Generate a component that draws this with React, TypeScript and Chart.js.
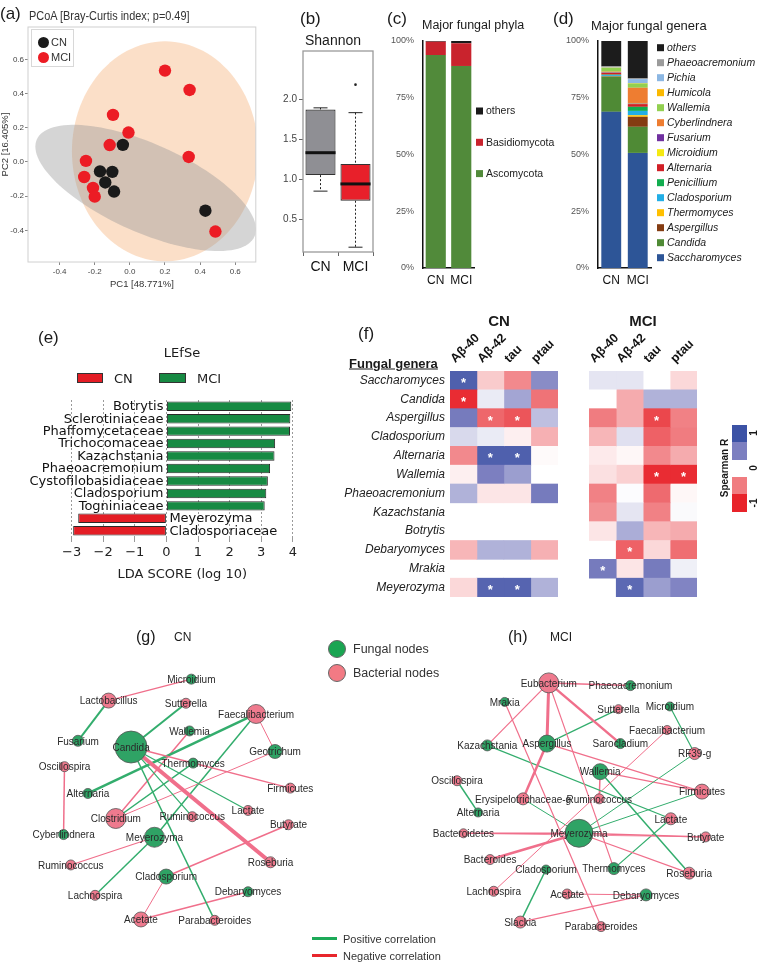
import React, { useEffect, useRef } from 'react';
import { Chart, registerables } from 'chart.js';

Chart.register(...registerables);

const SANS = "'Liberation Sans', Arial, Helvetica, sans-serif";
const DEJAVU = "'DejaVu Sans', Verdana, sans-serif";
Chart.defaults.font.family = SANS;

// ---------- (a) PCoA ----------
const cnPC1 = [-0.04, -0.17, -0.10, -0.14, -0.09, 0.43];
const cnPC2 = [0.10, -0.055, -0.058, -0.12, -0.173, -0.285];
const mciPC1 = [0.20, 0.34, -0.096, -0.008, -0.115, -0.25, 0.335, -0.26, -0.21, -0.20, 0.487];
const mciPC2 = [0.534, 0.421, 0.275, 0.172, 0.099, 0.006, 0.029, -0.088, -0.152, -0.203, -0.407];
const pcoaTicks = [-0.4, -0.2, 0, 0.2, 0.4, 0.6];
// confidence ellipses: centre (PC1, PC2), major semi-axis vector, minor semi-axis vector
const cnEllipse = [0.09, -0.152, 0.62, -0.283, -0.1, -0.237];
const mciEllipse = [0.2, 0.062, 0.53, 0, 0, 0.643];

// ---------- (b) Shannon ----------
const boxGroups = ['CN', 'MCI'];
const boxMin = [0.85, 0.15];
const boxQ1 = [1.05, 0.73];
const boxMedian = [1.33, 0.94];
const boxQ3 = [1.87, 1.19];
const boxMax = [1.89, 1.83];
const boxOutliers = [[], [2.18]];
const shannonTicks = [0.5, 1.0, 1.5, 2.0];

// ---------- (c) phyla ----------
const groups = ['CN', 'MCI'];
const ascomycota = [93.8, 89.0];
const basidiomycota = [5.9, 10.0];
const phylaOthers = [0.3, 1.0];
const pctTicks = [0, 25, 50, 75, 100];

// ---------- (d) genera (stack order bottom -> top) ----------
const generaNames = ['Saccharomyces', 'Candida', 'Aspergillus', 'Thermomyces', 'Cladosporium', 'Penicillium', 'Alternaria', 'Microidium', 'Fusarium', 'Cyberlindnera', 'Wallemia', 'Humicola', 'Pichia', 'Phaeoacremonium', 'others'];
const generaCN = [68.8, 15.5, 0.2, 0.1, 0.4, 0.2, 0.7, 0.1, 0.3, 0.2, 1.7, 0.1, 0.2, 0.3, 11.2];
const generaMCI = [50.7, 11.5, 4.4, 0.7, 1.9, 1.8, 1.2, 0.2, 0.3, 6.7, 1.9, 0.2, 1.7, 0.3, 16.5];
const generaColors = ['#2d5597', '#4f8a35', '#843c12', '#ffc000', '#22aee6', '#12ad4f', '#d11f26', '#f5e912', '#7030a0', '#ee7d31', '#92d050', '#fbb900', '#8cb7e3', '#9b9b9b', '#1c1c1c'];

// ---------- (e) LEfSe ----------
const lefseTaxa = ['Botrytis', 'Sclerotiniaceae', 'Phaffomycetaceae', 'Trichocomaceae', 'Kazachstania', 'Phaeoacremonium', 'Cystofilobasidiaceae', 'Cladosporium', 'Togniniaceae', 'Meyerozyma', 'Cladosporiaceae'];
const lefseLDA = [3.95, 3.92, 3.91, 3.44, 3.42, 3.28, 3.21, 3.16, 3.11, -2.79, -2.95];
const ldaTicks = [-3, -2, -1, 0, 1, 2, 3, 4];

// ---------- (f) heatmap ----------
const heatGenera = ['Saccharomyces', 'Candida', 'Aspergillus', 'Cladosporium', 'Alternaria', 'Wallemia', 'Phaeoacremonium', 'Kazachstania', 'Botrytis', 'Debaryomyces', 'Mrakia', 'Meyerozyma'];
const heatMarkers = ['Aβ-40', 'Aβ-42', 'tau', 'ptau'];
const cnSpearman = [
  [0.85, -0.2, -0.45, 0.45],
  [-0.95, 0.08, 0.35, -0.55],
  [0.55, -0.62, -0.72, 0.25],
  [0.15, 0.08, -0.06, -0.3],
  [-0.45, 0.85, 0.85, -0.02],
  [-0.06, 0.5, 0.38, 0],
  [0.3, -0.1, -0.1, 0.55],
  [null, null, null, null],
  [null, null, null, null],
  [-0.28, 0.3, 0.3, -0.3],
  [null, null, null, null],
  [-0.15, 0.8, 0.8, 0.3],
];
const mciSpearman = [
  [0.1, 0.1, 0, -0.15],
  [0, -0.32, 0.3, 0.3],
  [-0.5, -0.32, -0.8, -0.48],
  [-0.28, 0.12, -0.65, -0.5],
  [-0.08, -0.03, -0.45, -0.32],
  [-0.12, -0.18, -0.95, -0.95],
  [-0.48, 0.01, -0.6, -0.03],
  [-0.42, 0.1, -0.48, 0.02],
  [-0.1, 0.32, -0.28, -0.32],
  [null, -0.65, -0.15, -0.58],
  [0.55, -0.1, 0.55, 0.06],
  [null, 0.75, 0.38, 0.48],
];
const cnStars = [[0, 0], [1, 0], [2, 1], [2, 2], [4, 1], [4, 2], [11, 1], [11, 2]];
const mciStars = [[2, 2], [5, 2], [5, 3], [9, 1], [10, 0], [11, 1]];

// ---------- (g)/(h) networks: [name, layoutX, layoutY, size, kind] ----------
const cnNodes: any[] = [
  ['Microidium', 194, 25, 5, 'F'],
  ['Lactobacillus', 102, 49, 7.5, 'B'],
  ['Sutterella', 188, 52, 5, 'B'],
  ['Faecalibacterium', 266, 64, 9.5, 'B'],
  ['Wallemia', 192, 83, 5, 'F'],
  ['Fusarium', 68, 94, 5.5, 'F'],
  ['Candida', 127, 101, 16, 'F'],
  ['Geotrichum', 287, 106, 7, 'F'],
  ['Thermomyces', 196, 119, 5, 'F'],
  ['Oscillospira', 53, 123, 5, 'B'],
  ['Firmicutes', 304, 147, 5, 'B'],
  ['Alternaria', 79, 153, 5, 'F'],
  ['Lactate', 257, 172, 5, 'B'],
  ['Ruminococcus_1', 195, 179, 5, 'B'],
  ['Clostridium', 110, 181, 10, 'B'],
  ['Butyrate', 302, 188, 5, 'B'],
  ['Cyberlindnera', 52, 199, 5, 'F'],
  ['Meyerozyma', 153, 202, 10, 'F'],
  ['Roseburia', 282, 230, 5.5, 'B'],
  ['Ruminococcus_2', 60, 233, 5, 'B'],
  ['Cladosporium', 166, 246, 7.5, 'F'],
  ['Debaryomyces', 257, 263, 5, 'F'],
  ['Lachnospira', 87, 267, 5, 'B'],
  ['Acetate', 138, 294, 7.5, 'B'],
  ['Parabacteroides', 220, 295, 5, 'B'],
];
// [from, to, sign, strength]
const cnEdges: any[] = [
  ['Lactobacillus', 'Microidium', -1, 1.3],
  ['Lactobacillus', 'Fusarium', 1, 2],
  ['Candida', 'Sutterella', 1, 2],
  ['Candida', 'Firmicutes', -1, 1.5],
  ['Candida', 'Roseburia', -1, 4],
  ['Candida', 'Lactate', 1, 1.2],
  ['Candida', 'Ruminococcus_1', 1, 1.2],
  ['Candida', 'Parabacteroides', 1, 1.5],
  ['Alternaria', 'Faecalibacterium', 1, 2.5],
  ['Wallemia', 'Clostridium', -1, 1.5],
  ['Clostridium', 'Thermomyces', 1, 1.5],
  ['Clostridium', 'Geotrichum', -1, 1],
  ['Faecalibacterium', 'Geotrichum', -1, 1],
  ['Faecalibacterium', 'Meyerozyma', 1, 1.5],
  ['Oscillospira', 'Cyberlindnera', -1, 1.5],
  ['Meyerozyma', 'Ruminococcus_2', -1, 1.2],
  ['Meyerozyma', 'Lachnospira', 1, 1.5],
  ['Cladosporium', 'Butyrate', -1, 1.5],
  ['Cladosporium', 'Acetate', -1, 1],
  ['Acetate', 'Debaryomyces', -1, 1.5],
];
const mciNodes: any[] = [
  ['Eubacterium', 146, 31, 10, 'B'],
  ['Phaeoacremonium', 235, 34, 5, 'F'],
  ['Mrakia', 98, 52, 4.5, 'F'],
  ['Microidium', 278, 57, 4.5, 'F'],
  ['Sutterella', 222, 60, 4.5, 'B'],
  ['Faecalibacterium', 275, 83, 4.5, 'B'],
  ['Kazachstania', 79, 100, 5.5, 'F'],
  ['Aspergillus', 144, 98, 8.5, 'F'],
  ['Sarocladium', 224, 98, 5, 'F'],
  ['RF39-g', 305, 109, 6, 'B'],
  ['Wallemia', 202, 129, 8, 'F'],
  ['Oscillospira', 46, 139, 5, 'B'],
  ['Firmicutes', 313, 151, 7.5, 'B'],
  ['Ruminococcus', 201, 159, 5, 'B'],
  ['Erysipelotrichaceae-g', 118, 159, 6, 'B'],
  ['Alternaria', 69, 174, 4.5, 'F'],
  ['Lactate', 279, 181, 6, 'B'],
  ['Bacteroidetes', 53, 197, 4.5, 'B'],
  ['Meyerozyma', 179, 197, 14, 'F'],
  ['Butyrate', 317, 201, 5, 'B'],
  ['Bacteroides', 82, 226, 5, 'B'],
  ['Cladosporium', 143, 237, 4.5, 'F'],
  ['Thermomyces', 217, 236, 6, 'F'],
  ['Roseburia', 299, 241, 6, 'B'],
  ['Lachnospira', 86, 261, 5, 'B'],
  ['Acetate', 166, 264, 5, 'B'],
  ['Debaryomyces', 252, 265, 6, 'F'],
  ['Slackia', 115, 295, 6, 'B'],
  ['Parabacteroides', 203, 300, 5, 'B'],
];
const mciEdges: any[] = [
  ['Eubacterium', 'Phaeoacremonium', -1, 1.5],
  ['Eubacterium', 'Kazachstania', -1, 1.2],
  ['Eubacterium', 'Aspergillus', -1, 3],
  ['Eubacterium', 'Sarocladium', -1, 2.5],
  ['Eubacterium', 'Thermomyces', -1, 1.2],
  ['Mrakia', 'Parabacteroides', -1, 1.2],
  ['Aspergillus', 'Sutterella', 1, 1.2],
  ['Aspergillus', 'Erysipelotrichaceae-g', -1, 2.5],
  ['Aspergillus', 'Firmicutes', -1, 1.2],
  ['Kazachstania', 'Lactate', 1, 1.2],
  ['Faecalibacterium', 'Lachnospira', -1, 1],
  ['Microidium', 'RF39-g', 1, 1.2],
  ['RF39-g', 'Meyerozyma', 1, 1],
  ['Wallemia', 'Ruminococcus', -1, 1.5],
  ['Wallemia', 'Firmicutes', -1, 1.2],
  ['Wallemia', 'Roseburia', 1, 1.5],
  ['Oscillospira', 'Alternaria', 1, 1.5],
  ['Erysipelotrichaceae-g', 'Meyerozyma', 1, 1],
  ['Meyerozyma', 'Firmicutes', 1, 1],
  ['Meyerozyma', 'Bacteroidetes', -1, 1.5],
  ['Meyerozyma', 'Butyrate', -1, 1.5],
  ['Bacteroidetes', 'Butyrate', -1, 0.8],
  ['Meyerozyma', 'Bacteroides', -1, 2.5],
  ['Meyerozyma', 'Roseburia', -1, 1.2],
  ['Lactate', 'Thermomyces', 1, 1.2],
  ['Cladosporium', 'Slackia', 1, 1.5],
  ['Acetate', 'Debaryomyces', -1, 1],
  ['Slackia', 'Debaryomyces', -1, 1.2],
];

// ---------- styles ----------
const CN_BLACK = '#1a1a1a';
const MCI_RED = '#ec1c24';
const LEFSE_RED = '#e41d25';
const LEFSE_GREEN = '#178a43';
const FUNGAL = '#2fa365';
const BACT = '#ef7a8e';
const POS_EDGE = '#33ad6d';
const NEG_EDGE = '#f06f8b';
const heatStops: any[] = [[-1, [232, 35, 42]], [-0.5, [240, 124, 128]], [0, [255, 255, 255]], [0.5, [124, 127, 192]], [1, [60, 82, 165]]];

function heatColor(v: number) {
  for (let i = 0; i < heatStops.length - 1; i++) {
    const [a, ca] = heatStops[i];
    const [b, cb] = heatStops[i + 1];
    if (v >= a && v <= b) {
      const t = (v - a) / (b - a);
      const c = ca.map((x: number, k: number) => Math.round(x + (cb[k] - x) * t));
      return `rgb(${c[0]},${c[1]},${c[2]})`;
    }
  }
  return '#fff';
}

const base = (extra: any = {}) => ({
  responsive: false,
  animation: false,
  devicePixelRatio: 1,
  events: [],
  plugins: { legend: { display: false }, tooltip: { enabled: false } },
  ...extra,
});

const framePlugin = (color: string, width: number) => ({
  id: 'frame',
  afterDatasetsDraw(chart: any) {
    const { ctx, chartArea: a } = chart;
    ctx.save();
    ctx.strokeStyle = color;
    ctx.lineWidth = width;
    ctx.strokeRect(a.left, a.top, a.right - a.left, a.bottom - a.top);
    ctx.restore();
  },
});

function stackLegend(x: number, y: number, dy: number, font: string) {
  return {
    id: 'stackLegend',
    afterDraw(chart: any) {
      const ctx = chart.ctx;
      const ds = chart.data.datasets.slice().reverse();
      ctx.save();
      ctx.font = font;
      ctx.textBaseline = 'middle';
      ds.forEach((d: any, i: number) => {
        const yy = y + i * dy;
        ctx.fillStyle = d.backgroundColor;
        ctx.fillRect(x, yy - 3.5, 7, 7);
        ctx.fillStyle = '#222';
        ctx.fillText(d.label, x + 10, yy + 0.5);
      });
      ctx.restore();
    },
  };
}

// ---------- chart factories ----------
function makePcoa() {
  const ellipses = {
    id: 'ellipses',
    beforeDatasetsDraw(chart: any) {
      const { ctx, chartArea: a, scales } = chart;
      ctx.save();
      ctx.beginPath();
      ctx.rect(a.left, a.top, a.right - a.left, a.bottom - a.top);
      ctx.clip();
      const list: any[] = [[mciEllipse, 'rgba(247,196,155,0.55)'], [cnEllipse, 'rgba(150,150,150,0.40)']];
      list.forEach(([e, col]) => {
        ctx.beginPath();
        for (let k = 0; k <= 120; k++) {
          const t = (k / 120) * Math.PI * 2;
          const vx = e[0] + e[2] * Math.cos(t) + e[4] * Math.sin(t);
          const vy = e[1] + e[3] * Math.cos(t) + e[5] * Math.sin(t);
          const px = scales.x.getPixelForValue(vx);
          const py = scales.y.getPixelForValue(vy);
          if (k === 0) ctx.moveTo(px, py);
          else ctx.lineTo(px, py);
        }
        ctx.closePath();
        ctx.fillStyle = col;
        ctx.fill();
      });
      ctx.restore();
    },
  };
  const tickFont = { size: 8 };
  return {
    type: 'scatter',
    data: {
      datasets: [
        { label: 'CN', data: cnPC1.map((x, i) => ({ x, y: cnPC2[i] })), backgroundColor: CN_BLACK, pointRadius: 6.2, pointBorderWidth: 0 },
        { label: 'MCI', data: mciPC1.map((x, i) => ({ x, y: mciPC2[i] })), backgroundColor: MCI_RED, pointRadius: 6.2, pointBorderWidth: 0 },
      ],
    },
    options: base({
      layout: { padding: { top: 27, right: 4, left: 0, bottom: 0 } },
      scales: {
        x: {
          type: 'linear', min: -0.58, max: 0.717,
          afterBuildTicks: (s: any) => { s.ticks = pcoaTicks.map((v) => ({ value: v })); },
          afterFit: (s: any) => { s.height = 28; },
          grid: { drawOnChartArea: false, tickLength: 3, color: '#888' },
          border: { display: false },
          ticks: { font: tickFont, color: '#444', padding: 2, callback: (v: any) => Number(v).toFixed(1) },
          title: { display: true, text: 'PC1 [48.771%]', font: { size: 9.5 }, color: '#333', padding: 0 },
        },
        y: {
          type: 'linear', min: -0.585, max: 0.789,
          afterBuildTicks: (s: any) => { s.ticks = pcoaTicks.map((v) => ({ value: v })); },
          afterFit: (s: any) => { s.width = 28; },
          grid: { drawOnChartArea: false, tickLength: 3, color: '#888' },
          border: { display: false },
          ticks: { font: tickFont, color: '#444', padding: 1, callback: (v: any) => Number(v).toFixed(1) },
          title: { display: true, text: 'PC2 [16.405%]', font: { size: 9.5 }, color: '#333', padding: 0 },
        },
      },
    }),
    plugins: [ellipses, framePlugin('#d0d0d0', 1)],
  };
}

function makeBox() {
  const whiskers = {
    id: 'whiskers',
    beforeDatasetsDraw(chart: any) {
      const { ctx, scales } = chart;
      ctx.save();
      ctx.strokeStyle = '#222';
      ctx.lineWidth = 1;
      boxGroups.forEach((g, i) => {
        const cx = scales.x.getPixelForValue(i);
        ctx.setLineDash([2, 2]);
        ctx.beginPath();
        ctx.moveTo(cx, scales.y.getPixelForValue(boxMax[i]));
        ctx.lineTo(cx, scales.y.getPixelForValue(boxQ3[i]));
        ctx.moveTo(cx, scales.y.getPixelForValue(boxQ1[i]));
        ctx.lineTo(cx, scales.y.getPixelForValue(boxMin[i]));
        ctx.stroke();
        ctx.setLineDash([]);
        ctx.beginPath();
        [boxMax[i], boxMin[i]].forEach((v) => {
          const yy = scales.y.getPixelForValue(v);
          ctx.moveTo(cx - 7, yy);
          ctx.lineTo(cx + 7, yy);
        });
        ctx.stroke();
      });
      ctx.restore();
    },
    afterDatasetsDraw(chart: any) {
      const { ctx, scales } = chart;
      const meta = chart.getDatasetMeta(0);
      ctx.save();
      boxGroups.forEach((g, i) => {
        const el = meta.data[i];
        const cx = scales.x.getPixelForValue(i);
        const w = el.width;
        const ym = scales.y.getPixelForValue(boxMedian[i]);
        ctx.strokeStyle = '#111';
        ctx.lineWidth = 3;
        ctx.beginPath();
        ctx.moveTo(cx - w / 2, ym);
        ctx.lineTo(cx + w / 2, ym);
        ctx.stroke();
        ctx.fillStyle = '#222';
        (boxOutliers[i] as number[]).forEach((v) => {
          ctx.beginPath();
          ctx.arc(cx, scales.y.getPixelForValue(v), 1.3, 0, Math.PI * 2);
          ctx.fill();
        });
      });
      ctx.restore();
    },
  };
  return {
    type: 'bar',
    data: {
      labels: boxGroups,
      datasets: [{
        data: boxGroups.map((g, i) => [boxQ1[i], boxQ3[i]]),
        backgroundColor: ['#8f8f94', '#e8202a'],
        borderColor: '#333', borderWidth: 1.2, borderSkipped: false,
        barPercentage: 0.86, categoryPercentage: 1,
      }],
    },
    options: base({
      layout: { padding: { top: 51, right: 7, left: 0, bottom: 0 } },
      scales: {
        x: {
          afterFit: (s: any) => { s.height = 38; },
          grid: { drawOnChartArea: false, tickLength: 4, color: '#666' },
          border: { display: false },
          ticks: { font: { size: 14 }, color: '#111', padding: 3, autoSkip: false, maxRotation: 0 },
        },
        y: {
          type: 'linear', min: 0.09, max: 2.6,
          afterBuildTicks: (s: any) => { s.ticks = shannonTicks.map((v) => ({ value: v })); },
          afterFit: (s: any) => { s.width = 41; },
          grid: { drawOnChartArea: false, tickLength: 4, color: '#666' },
          border: { display: false },
          ticks: { font: { size: 10 }, color: '#444', padding: 2, callback: (v: any) => Number(v).toFixed(1) },
        },
      },
    }),
    plugins: [whiskers, framePlugin('#9a9a9a', 1.3)],
  };
}

function stackedOptions(padRight: number, yWidth: number, barPct: number) {
  return base({
    layout: { padding: { top: 41, right: padRight, left: 0, bottom: 0 } },
    datasets: { bar: { barPercentage: barPct, categoryPercentage: 1 } },
    scales: {
      x: {
        stacked: true,
        afterFit: (s: any) => { s.height = 22; },
        grid: { display: false, drawTicks: false },
        border: { color: '#111', width: 1.5 },
        ticks: { font: { size: 12 }, color: '#111', padding: 5, autoSkip: false, minRotation: 0, maxRotation: 0 },
      },
      y: {
        stacked: true, min: 0, max: 100,
        afterBuildTicks: (s: any) => { s.ticks = pctTicks.map((v) => ({ value: v })); },
        afterFit: (s: any) => { s.width = yWidth; },
        grid: { display: false, drawTicks: false },
        border: { color: '#111', width: 1.5 },
        ticks: { font: { size: 9 }, color: '#555', padding: 9, callback: (v: any) => v + '%' },
      },
    },
  });
}

function makePhyla() {
  return {
    type: 'bar',
    data: {
      labels: groups,
      datasets: [
        { label: 'Ascomycota', data: ascomycota, backgroundColor: '#518a3a' },
        { label: 'Basidiomycota', data: basidiomycota, backgroundColor: '#c9232d' },
        { label: 'others', data: phylaOthers, backgroundColor: '#1a1a1a' },
      ],
    },
    options: stackedOptions(86, 43, 0.79),
    plugins: [stackLegend(96, 111, 31.3, `10.5px ${SANS}`)],
  };
}

function makeGenera() {
  return {
    type: 'bar',
    data: {
      labels: groups,
      datasets: generaNames.map((n, i) => ({ label: n, data: [generaCN[i], generaMCI[i]], backgroundColor: generaColors[i] })),
    },
    options: stackedOptions(108, 38, 0.75),
    plugins: [stackLegend(97, 47.7, 15, `italic 10.5px ${SANS}`)],
  };
}

function makeLefse() {
  const labels = {
    id: 'lefseLabels',
    afterDatasetsDraw(chart: any) {
      const { ctx, scales } = chart;
      const meta = chart.getDatasetMeta(0);
      const x0 = scales.x.getPixelForValue(0);
      ctx.save();
      ctx.font = `13px ${DEJAVU}`;
      ctx.fillStyle = '#111';
      ctx.textBaseline = 'middle';
      meta.data.forEach((el: any, i: number) => {
        const pos = lefseLDA[i] >= 0;
        ctx.textAlign = pos ? 'right' : 'left';
        ctx.fillText(lefseTaxa[i], pos ? x0 - 3 : x0 + 3, el.y + 0.5);
      });
      ctx.restore();
    },
  };
  return {
    type: 'bar',
    data: {
      labels: lefseTaxa,
      datasets: [{
        data: lefseLDA,
        backgroundColor: lefseLDA.map((v) => (v >= 0 ? LEFSE_GREEN : LEFSE_RED)),
        borderColor: '#2a2a2a', borderWidth: 1, borderSkipped: false,
        barPercentage: 0.76, categoryPercentage: 1,
      }],
    },
    options: base({
      indexAxis: 'y',
      layout: { padding: { top: 110, right: 5, left: 70, bottom: 0 } },
      scales: {
        x: {
          type: 'linear', min: -3.05, max: 4.05,
          afterBuildTicks: (s: any) => { s.ticks = ldaTicks.map((v) => ({ value: v })); },
          afterFit: (s: any) => { s.height = 48; },
          grid: { color: '#9a9a9a', lineWidth: 1, tickLength: 5 },
          border: { display: false, dash: [2, 2] },
          ticks: { font: { family: DEJAVU, size: 13 }, color: '#222', padding: 3, callback: (v: any) => (v < 0 ? '\u2212' + Math.abs(v) : String(v)) },
          title: { display: true, text: 'LDA SCORE (log 10)', font: { family: DEJAVU, size: 13 }, color: '#222', padding: { top: 1, bottom: 3 } },
        },
        y: { display: false },
      },
    }),
    plugins: [labels],
  };
}

const heatGap = 1.174;
function makeHeatmap() {
  const cols: any[] = [];
  [cnSpearman, mciSpearman].forEach((mat, g) => {
    heatMarkers.forEach((m, c) => {
      const x0 = g === 0 ? c : 4 + heatGap + c;
      cols.push({
        label: (g === 0 ? 'CN ' : 'MCI ') + m,
        data: mat.map((row) => (row[c] === null ? null : [x0, x0 + 1])),
        backgroundColor: mat.map((row) => heatColor(row[c] === null ? 0 : (row[c] as number))),
        borderWidth: 0,
        grouped: false,
        barPercentage: 1,
        categoryPercentage: 1,
      });
    });
  });
  const tickPos = [0.5, 1.5, 2.5, 3.5].concat([0.5, 1.5, 2.5, 3.5].map((v) => v + 4 + heatGap));
  const stars = {
    id: 'stars',
    afterDatasetsDraw(chart: any) {
      const ctx = chart.ctx;
      ctx.save();
      ctx.fillStyle = '#fff';
      ctx.font = `bold 13px ${SANS}`;
      ctx.textAlign = 'center';
      ctx.textBaseline = 'middle';
      [cnStars, mciStars].forEach((list, g) => {
        list.forEach(([r, c]) => {
          const el = chart.getDatasetMeta(g * 4 + c).data[r];
          const p = el.getProps(['x', 'y', 'base'], true);
          ctx.fillText('*', (p.x + p.base) / 2, p.y + 3);
        });
      });
      ctx.restore();
    },
  };
  return {
    type: 'bar',
    data: { labels: heatGenera, datasets: cols },
    options: base({
      indexAxis: 'y',
      layout: { padding: { top: 0, right: 62, left: 0, bottom: 13 } },
      scales: {
        x: {
          type: 'linear', position: 'top', min: 0, max: 8 + heatGap,
          afterBuildTicks: (s: any) => { s.ticks = tickPos.map((v) => ({ value: v })); },
          afterFit: (s: any) => { s.height = 81; },
          grid: { display: false, drawTicks: false },
          border: { display: false },
          ticks: { autoSkip: false, minRotation: 45, maxRotation: 45, padding: 5, font: { size: 12.5, weight: 'bold' }, color: '#111', callback: (v: any, i: number) => heatMarkers[i % 4] },
        },
        y: {
          afterFit: (s: any) => { s.width = 190; },
          grid: { display: false, drawTicks: false },
          border: { display: false },
          ticks: { autoSkip: false, padding: 5, font: { size: 12, style: 'italic' }, color: '#222' },
        },
      },
    }),
    plugins: [stars],
  };
}

function makeNetwork(nodes: any[], edges: any[], w: number, h: number) {
  const idx = new Map(nodes.map((n, i) => [n[0], i]));
  const pt = (name: string) => {
    const n = nodes[idx.get(name) as number];
    return { x: n[1], y: n[2] };
  };
  const edgeSets = edges.map(([a, b, sign, wt]) => ({
    type: 'line',
    data: [pt(a), pt(b)],
    borderColor: sign > 0 ? POS_EDGE : NEG_EDGE,
    borderWidth: wt,
    pointRadius: 0,
    tension: 0,
    fill: false,
    order: 1,
    clip: false,
  }));
  const nodeSet = {
    type: 'bubble',
    data: nodes.map((n) => ({ x: n[1], y: n[2], r: n[3] })),
    backgroundColor: nodes.map((n) => (n[4] === 'F' ? FUNGAL : BACT)),
    borderColor: '#555',
    borderWidth: 0.8,
    order: 0,
    clip: false,
  };
  const labels = {
    id: 'nodeLabels',
    afterDatasetsDraw(chart: any) {
      const ctx = chart.ctx;
      const meta = chart.getDatasetMeta(0);
      ctx.save();
      ctx.font = `10px ${SANS}`;
      ctx.fillStyle = '#2a2a2a';
      ctx.textAlign = 'center';
      ctx.textBaseline = 'middle';
      meta.data.forEach((el: any, i: number) => {
        ctx.fillText(String(nodes[i][0]).split('_')[0], el.x, el.y + 1);
      });
      ctx.restore();
    },
  };
  return {
    type: 'scatter',
    data: { datasets: [nodeSet, ...edgeSets] },
    options: base({
      layout: { padding: 0 },
      scales: {
        x: { type: 'linear', display: false, min: 0, max: w },
        y: { type: 'linear', display: false, min: 0, max: h, reverse: true },
      },
    }),
    plugins: [labels],
  };
}

// ---------- components ----------
function ChartCanvas({ left, top, width, height, make }: any) {
  const ref = useRef<HTMLCanvasElement>(null);
  useEffect(() => {
    const chart = new Chart(ref.current as HTMLCanvasElement, make());
    return () => chart.destroy();
  }, []);
  return <canvas ref={ref} width={width} height={height} style={{ position: 'absolute', left, top, width, height }} />;
}

function T({ x, y, s, children, align = 'left', font = SANS, weight = 'normal', italic = false, color = '#1a1a1a', rotate = 0, underline = false, sx = 1 }: any) {
  const tx = align === 'center' ? '-50%' : align === 'right' ? '-100%' : '0';
  let tf = `translate(${tx},-50%)`;
  if (rotate) tf += ` rotate(${rotate}deg)`;
  if (sx !== 1) tf += ` scaleX(${sx})`;
  return (
    <div style={{
      position: 'absolute', left: x, top: y, transform: tf,
      transformOrigin: align === 'left' && !rotate ? 'left center' : 'center center',
      fontSize: s, fontFamily: font, fontWeight: weight, fontStyle: italic ? 'italic' : 'normal',
      color, whiteSpace: 'nowrap', lineHeight: 1, textDecoration: underline ? 'underline' : 'none',
    }}>{children}</div>
  );
}

const Dot = ({ x, y, r, color, border }: any) => (
  <div style={{ position: 'absolute', left: x - r, top: y - r, width: 2 * r, height: 2 * r, borderRadius: '50%', background: color, boxSizing: 'border-box', border: border || 'none' }} />
);
const Rect = ({ x, y, w, h, color, border }: any) => (
  <div style={{ position: 'absolute', left: x, top: y, width: w, height: h, background: color, boxSizing: 'border-box', border: border || 'none' }} />
);

export default function App() {
  return (
    <div style={{ position: 'absolute', left: 0, top: 0, width: 759, height: 963, background: '#fff', overflow: 'hidden', fontFamily: SANS }}>
      <ChartCanvas left={0} top={0} width={262} height={290} make={makePcoa} />
      <ChartCanvas left={262} top={0} width={118} height={290} make={makeBox} />
      <ChartCanvas left={380} top={0} width={180} height={290} make={makePhyla} />
      <ChartCanvas left={560} top={0} width={199} height={290} make={makeGenera} />
      <ChartCanvas left={0} top={290} width={300} height={295} make={makeLefse} />
      <ChartCanvas left={260} top={290} width={499} height={320} make={makeHeatmap} />
      <ChartCanvas left={0} top={640} width={335} height={315} make={() => makeNetwork(cnNodes, cnEdges, 335, 315)} />
      <ChartCanvas left={400} top={640} width={359} height={315} make={() => makeNetwork(mciNodes, mciEdges, 359, 315)} />

      {/* (a) */}
      <T x={0} y={13} s={17}>(a)</T>
      <T x={29} y={15} s={13} color="#333" sx={0.84}>PCoA [Bray-Curtis index; p=0.49]</T>
      <div style={{ position: 'absolute', left: 31, top: 29, width: 43, height: 38, border: '1px solid #d8d8d8', background: '#fff', boxSizing: 'border-box' }} />
      <Dot x={43} y={42} r={5.5} color={CN_BLACK} />
      <Dot x={43} y={57} r={5.5} color={MCI_RED} />
      <T x={51} y={42} s={11} color="#333">CN</T>
      <T x={51} y={57} s={11} color="#333">MCI</T>

      {/* (b)-(d) */}
      <T x={300} y={18} s={17}>(b)</T>
      <T x={333} y={40} s={14} align="center">Shannon</T>
      <T x={387} y={18} s={17}>(c)</T>
      <T x={422} y={25} s={12.5}>Major fungal phyla</T>
      <T x={553} y={18} s={17}>(d)</T>
      <T x={591} y={25} s={13}>Major fungal genera</T>

      {/* (e) */}
      <T x={38} y={337} s={17}>(e)</T>
      <T x={182} y={352} s={13} font={DEJAVU} align="center">LEfSe</T>
      <Rect x={77} y={373} w={26} h={10} color={LEFSE_RED} border="1px solid #333" />
      <T x={114} y={378} s={13} font={DEJAVU}>CN</T>
      <Rect x={159} y={373} w={27} h={10} color={LEFSE_GREEN} border="1px solid #333" />
      <T x={197} y={378} s={13} font={DEJAVU}>MCI</T>

      {/* (f) */}
      <T x={358} y={333} s={17}>(f)</T>
      <T x={499} y={320} s={15} weight="bold" align="center">CN</T>
      <T x={643} y={320} s={15} weight="bold" align="center">MCI</T>
      <T x={349} y={363} s={13} weight="bold" underline>Fungal genera</T>
      {[1, 0.5, 0, -0.5, -1].map((v, i) => (
        <Rect key={i} x={732} y={425 + i * 17.3} w={15} h={17.4} color={heatColor(v)} />
      ))}
      <T x={725} y={468} s={10} weight="bold" align="center" rotate={-90}>Spearman R</T>
      <T x={754} y={433} s={10} weight="bold" align="center" rotate={-90}>1</T>
      <T x={754} y={468} s={10} weight="bold" align="center" rotate={-90}>0</T>
      <T x={754} y={503} s={10} weight="bold" align="center" rotate={-90}>-1</T>

      {/* (g)/(h) */}
      <T x={136} y={637} s={16}>(g)</T>
      <T x={174} y={637} s={12}>CN</T>
      <T x={508} y={637} s={16}>(h)</T>
      <T x={550} y={637} s={12}>MCI</T>
      <Dot x={337} y={649} r={9} color="#1aa552" border="1px solid #666" />
      <Dot x={337} y={673} r={9} color="#f27a84" border="1px solid #666" />
      <T x={353} y={649} s={12.5} color="#333">Fungal nodes</T>
      <T x={353} y={673} s={12.5} color="#333">Bacterial nodes</T>
      <Rect x={312} y={937} w={25} h={3} color="#1daa58" />
      <Rect x={312} y={954} w={25} h={3} color="#e8262c" />
      <T x={343} y={938.5} s={11} color="#333">Positive correlation</T>
      <T x={343} y={955.5} s={11} color="#333">Negative correlation</T>
    </div>
  );
}
